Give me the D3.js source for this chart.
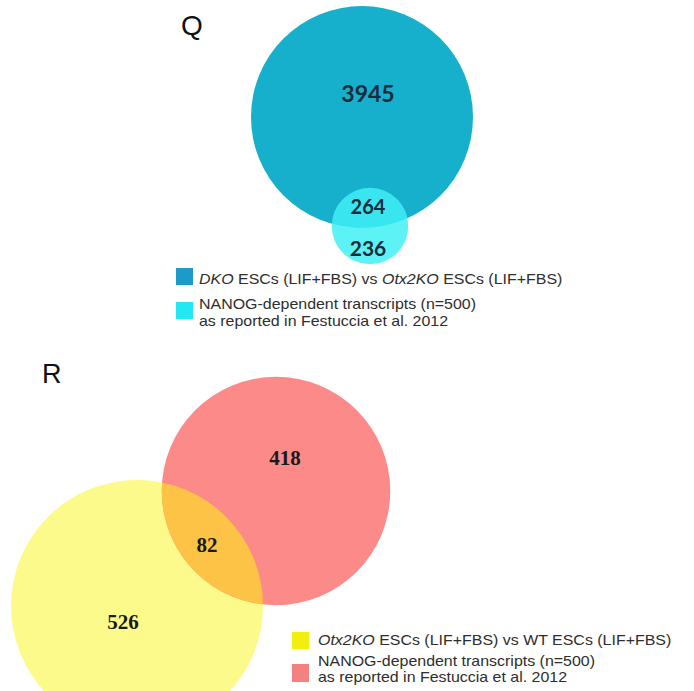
<!DOCTYPE html>
<html>
<head>
<meta charset="utf-8">
<script src="https://cdn.jsdelivr.net/npm/d3@7"></script>
<style>
  html, body { margin: 0; padding: 0; background: #fff; }
  svg { display: block; }
</style>
</head>
<body>
<svg id="chart" width="694" height="691"></svg>
<script>
// ---- Data ----
// Panel Q
const qSets = ["DKO vs Otx2KO", "NANOG-dependent"];
const qOnly = [3945, 236];          // unique counts per set
const qOverlap = 264;               // shared count
// Panel R
const rSets = ["Otx2KO vs WT", "NANOG-dependent"];
const rOnly = [526, 418];
const rOverlap = 82;

const qLegend = [
  [{t: "DKO", i: true}, {t: " ESCs (LIF+FBS) vs "}, {t: "Otx2KO", i: true}, {t: " ESCs (LIF+FBS)"}],
  [{t: "NANOG-dependent transcripts (n=500)"}],
  [{t: "as reported in Festuccia et al. 2012"}]
];
const rLegend = [
  [{t: "Otx2KO", i: true}, {t: " ESCs (LIF+FBS) vs WT ESCs (LIF+FBS)"}],
  [{t: "NANOG-dependent transcripts (n=500)"}],
  [{t: "as reported in Festuccia et al. 2012"}]
];

// ---- Drawing ----
const svg = d3.select("#chart");
const defs = svg.append("defs");
const SX = 1.14;

function legendLines(lg, lines, x, ys) {
  lines.forEach((line, k) => {
    const t = lg.append("text").attr("transform", `translate(${x},${ys[k]}) scale(${SX},1)`);
    line.forEach(p => t.append("tspan").attr("font-style", p.i ? "italic" : null).text(p.t));
  });
}

// Panel Q
{
  const totals = qOnly.map(v => v + qOverlap);
  const r = d3.scaleSqrt().domain([0, totals[0]]).range([0, 111]);
  const c = [{x: 362, y: 117, r: r(totals[0])}, {x: 370, y: 226, r: r(totals[1])}];
  const g = svg.append("g");
  g.append("circle").attr("cx", c[0].x).attr("cy", c[0].y).attr("r", c[0].r).attr("fill", "#17b0cc");
  g.append("circle").attr("cx", c[1].x).attr("cy", c[1].y).attr("r", c[1].r).attr("fill", "#40f0f5").attr("fill-opacity", 0.85);

  const numStyle = s => s.attr("font-family", "Lato, 'Open Sans', sans-serif").attr("font-weight", "bold")
    .attr("fill", "#1c2a3c").attr("text-anchor", "middle");
  g.append("text").attr("x", 368).attr("y", 102).attr("font-size", 23).text(qOnly[0]).call(numStyle);
  g.append("text").attr("x", 368).attr("y", 214).attr("font-size", 20).text(qOverlap).call(numStyle);
  g.append("text").attr("x", 368).attr("y", 256).attr("font-size", 21).text(qOnly[1]).call(numStyle);

  svg.append("text").attr("x", 181).attr("y", 35).attr("font-family", "'Liberation Sans', Arial, sans-serif")
    .attr("font-size", 28).attr("fill", "#111").text("Q");

  const lg = svg.append("g").attr("font-family", "'Liberation Sans', Arial, sans-serif").attr("font-size", 14).attr("fill", "#2e2e2e");
  lg.append("rect").attr("x", 176).attr("y", 268).attr("width", 17).attr("height", 17).attr("fill", "#1a9cc6");
  lg.append("rect").attr("x", 176).attr("y", 302).attr("width", 17).attr("height", 17).attr("fill", "#22e8f2");
  legendLines(lg, qLegend, 199, [284, 309, 326]);
}

// Panel R
{
  const totals = rOnly.map(v => v + rOverlap);
  const r = d3.scaleSqrt().domain([0, totals[0]]).range([0, 126]);
  const c = [{x: 137, y: 606, r: r(totals[0])}, {x: 276, y: 491, r: r(totals[1])}];
  const g = svg.append("g");
  g.append("circle").attr("cx", c[0].x).attr("cy", c[0].y).attr("r", c[0].r).attr("fill", "#fdfa8c");
  g.append("circle").attr("cx", c[1].x).attr("cy", c[1].y).attr("r", c[1].r).attr("fill", "#fb8a88");
  defs.append("clipPath").attr("id", "clipY").append("circle")
    .attr("cx", c[0].x).attr("cy", c[0].y).attr("r", c[0].r);
  g.append("circle").attr("cx", c[1].x).attr("cy", c[1].y).attr("r", c[1].r)
    .attr("fill", "#fcc347").attr("clip-path", "url(#clipY)");

  const numStyle = s => s.attr("font-family", "'Liberation Serif', 'Times New Roman', serif").attr("font-weight", "bold")
    .attr("fill", "#1a1a1a").attr("text-anchor", "middle").attr("font-size", 21);
  g.append("text").attr("x", 285).attr("y", 465).text(rOnly[1]).call(numStyle);
  g.append("text").attr("x", 207).attr("y", 552).text(rOverlap).call(numStyle);
  g.append("text").attr("x", 123).attr("y", 629).text(rOnly[0]).call(numStyle);

  svg.append("text").attr("x", 42).attr("y", 383).attr("font-family", "'Liberation Sans', Arial, sans-serif")
    .attr("font-size", 27).attr("fill", "#111").text("R");

  const lg = svg.append("g").attr("font-family", "'Liberation Sans', Arial, sans-serif").attr("font-size", 14).attr("fill", "#2e2e2e");
  lg.append("rect").attr("x", 292).attr("y", 632).attr("width", 17).attr("height", 17).attr("fill", "#f2ee10");
  lg.append("rect").attr("x", 292).attr("y", 664).attr("width", 17).attr("height", 18).attr("fill", "#f48080");
  legendLines(lg, rLegend, 318, [645, 666, 682]);
}
</script>
</body>
</html>
